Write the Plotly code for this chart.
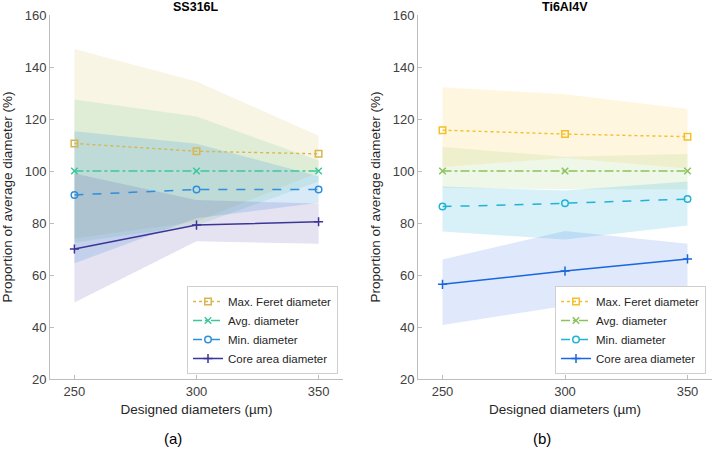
import plotly.graph_objects as go

designed = [250, 300, 350]
series_names = ["Max. Feret diameter", "Avg. diameter", "Min. diameter", "Core area diameter"]

# SS316L
ss_mean = {
    "Max. Feret diameter": [110.6, 107.6, 106.6],
    "Avg. diameter": [100.0, 100.0, 100.0],
    "Min. diameter": [90.8, 92.9, 92.9],
    "Core area diameter": [70.0, 79.2, 80.5],
}
ss_upper = {
    "Max. Feret diameter": [146.9, 134.4, 113.6],
    "Avg. diameter": [127.5, 121.0, 104.0],
    "Min. diameter": [115.3, 110.5, 98.0],
    "Core area diameter": [99.0, 88.8, 87.5],
}
ss_lower = {
    "Max. Feret diameter": [74.0, 80.5, 99.5],
    "Avg. diameter": [72.5, 79.0, 96.0],
    "Min. diameter": [64.5, 81.8, 87.8],
    "Core area diameter": [49.4, 73.0, 72.0],
}

# Ti6Al4V
ti_mean = {
    "Max. Feret diameter": [115.7, 114.2, 113.2],
    "Avg. diameter": [100.0, 100.0, 100.0],
    "Min. diameter": [86.3, 87.6, 89.2],
    "Core area diameter": [56.4, 61.5, 66.2],
}
ti_upper = {
    "Max. Feret diameter": [132.2, 129.5, 123.8],
    "Avg. diameter": [109.2, 105.5, 106.5],
    "Min. diameter": [94.0, 92.5, 96.0],
    "Core area diameter": [66.0, 76.9, 72.0],
}
ti_lower = {
    "Max. Feret diameter": [101.5, 105.0, 101.0],
    "Avg. diameter": [93.5, 93.0, 93.0],
    "Min. diameter": [76.7, 73.7, 79.0],
    "Core area diameter": [40.8, 48.1, 54.6],
}

y_ticks = [20, 40, 60, 80, 100, 120, 140, 160]
x_ticks = [250, 300, 350]

ss_colors = ["#d9b64c", "#3cc79b", "#2e8fdb", "#3d3596"]
ss_fills = ["rgba(222,204,120,0.20)", "rgba(95,200,150,0.16)", "rgba(60,150,220,0.20)", "rgba(80,70,170,0.15)"]
ti_colors = ["#f5bf2a", "#8ac25c", "#1fb3d6", "#1a66de"]
ti_fills = ["rgba(250,200,60,0.17)", "rgba(150,200,110,0.15)", "rgba(60,185,220,0.20)", "rgba(40,110,225,0.15)"]

dashes = ["dot", "dashdot", "dash", "solid"]
symbols = ["square-open", "x-thin-open", "circle-open", "cross-thin-open"]

fig = go.Figure()

def add_panel(mean, upper, lower, colors, fills, xa, ya, legend):
    for name, fc in zip(series_names, fills):
        fig.add_trace(go.Scatter(
            x=designed + designed[::-1],
            y=upper[name] + lower[name][::-1],
            fill="toself", fillcolor=fc, line=dict(width=0),
            mode="lines", showlegend=False, hoverinfo="skip",
            xaxis=xa, yaxis=ya))
    for name, c, d, s in zip(series_names, colors, dashes, symbols):
        fig.add_trace(go.Scatter(
            x=designed, y=mean[name], name=name, mode="lines+markers",
            line=dict(color=c, width=1.5 if d != "dot" else 1.4, dash=d),
            marker=dict(symbol=s, size=6.5, color=c, line=dict(color=c, width=1.5)),
            xaxis=xa, yaxis=ya, legend=legend))

add_panel(ss_mean, ss_upper, ss_lower, ss_colors, ss_fills, "x", "y", "legend")
add_panel(ti_mean, ti_upper, ti_lower, ti_colors, ti_fills, "x2", "y2", "legend2")

W, H = 714, 449
ydom = [1 - 379 / H, 1 - 15 / H]
font = "Liberation Sans, Arial, sans-serif"
axis_common = dict(showline=True, linecolor="#bdbdbd", linewidth=1, ticks="inside",
                   ticklen=4, tickcolor="#bdbdbd", showgrid=False, zeroline=False,
                   automargin=False,
                   tickfont=dict(family=font, size=13, color="#404040"), mirror=False)
title_font = dict(family=font, size=13.5, color="#262626")

fig.update_layout(
    width=W, height=H, margin=dict(l=0, r=0, t=0, b=0),
    paper_bgcolor="white", plot_bgcolor="white",
    font=dict(family=font, color="#262626"),
    xaxis=dict(domain=[50 / W, 343 / W], range=[240, 360], tickvals=x_ticks, anchor="y",
               title=dict(text="Designed diameters (µm)", font=title_font, standoff=6),
               **axis_common),
    yaxis=dict(domain=ydom, range=[20, 160], tickvals=y_ticks, anchor="x",
               title=dict(text="Proportion of average diameter (%)", font=title_font, standoff=8),
               **axis_common),
    xaxis2=dict(domain=[418 / W, 712 / W], range=[240, 360], tickvals=x_ticks, anchor="y2",
                title=dict(text="Designed diameters (µm)", font=title_font, standoff=6),
                **axis_common),
    yaxis2=dict(domain=ydom, range=[20, 160], tickvals=y_ticks, anchor="x2",
                title=dict(text="Proportion of average diameter (%)", font=title_font, standoff=8),
                **axis_common),
    legend=dict(x=338 / W, y=1 - 374 / H, xanchor="right", yanchor="bottom",
                bgcolor="white", bordercolor="#cfcfcf", borderwidth=1,
                font=dict(family=font, size=11.5, color="#262626"),
                tracegroupgap=0, itemwidth=30),
    legend2=dict(x=706 / W, y=1 - 374 / H, xanchor="right", yanchor="bottom",
                 bgcolor="white", bordercolor="#cfcfcf", borderwidth=1,
                 font=dict(family=font, size=11.5, color="#262626"),
                 tracegroupgap=0, itemwidth=30),
    annotations=[
        dict(text="<b>SS316L</b>", x=196 / W, y=1 - 7 / H, xref="paper", yref="paper",
             xanchor="center", yanchor="middle", showarrow=False, font=dict(size=12.5, color="#000")),
        dict(text="<b>Ti6Al4V</b>", x=565 / W, y=1 - 7 / H, xref="paper", yref="paper",
             xanchor="center", yanchor="middle", showarrow=False, font=dict(size=12.5, color="#000")),
        dict(text="(a)", x=173 / W, y=1 - 438 / H, xref="paper", yref="paper",
             xanchor="center", yanchor="middle", showarrow=False, font=dict(size=15, color="#000")),
        dict(text="(b)", x=542 / W, y=1 - 438 / H, xref="paper", yref="paper",
             xanchor="center", yanchor="middle", showarrow=False, font=dict(size=15, color="#000")),
    ],
)

fig.write_html("out.html", config={"displayModeBar": False},
               post_script="document.body.style.margin='0px';document.body.style.overflow='hidden';")
